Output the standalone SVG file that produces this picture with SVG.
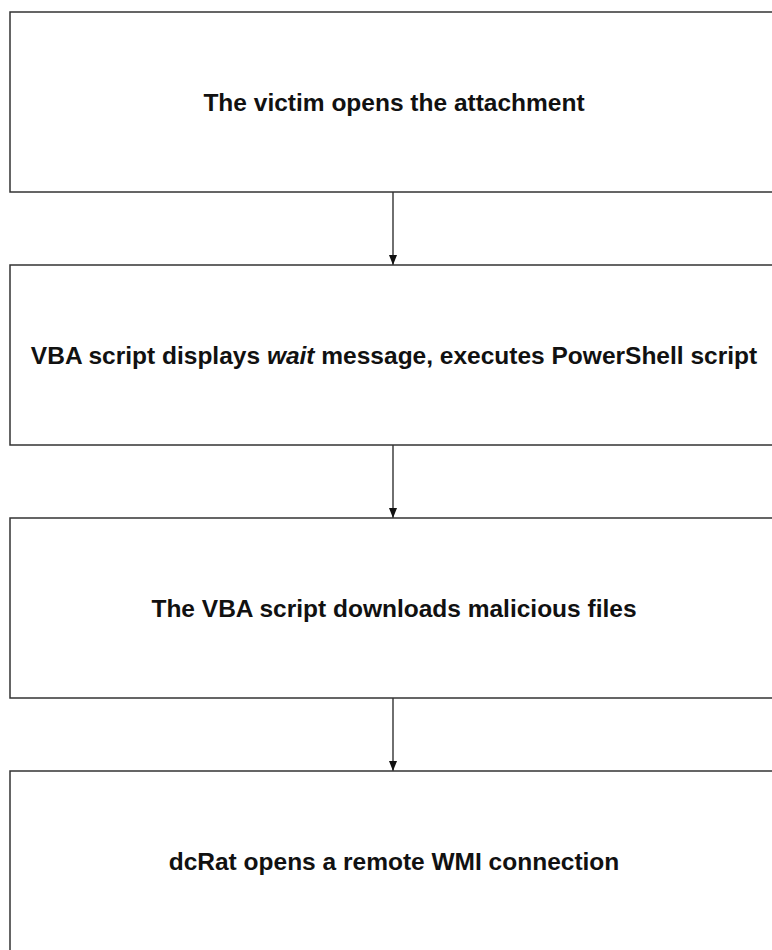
<svg xmlns="http://www.w3.org/2000/svg" width="772" height="950" viewBox="0 0 772 950">
<style>
.box{fill:#ffffff;stroke:#333333;stroke-width:1.5}
.lbl{font-family:"Liberation Sans",Arial,sans-serif;font-weight:bold;font-size:24.5px;fill:#111111;text-anchor:middle}
.conn{stroke:#222222;stroke-width:1.3;fill:none}
</style>
<defs>
<marker id="arr" viewBox="0 0 10 8" refX="10" refY="4" markerWidth="10" markerHeight="8" markerUnits="userSpaceOnUse" orient="auto">
<path d="M0,0 L10,4 L0,8 z" fill="#111111"/>
</marker>
</defs>
<rect width="772" height="950" fill="#ffffff"/>
<g id="connectors">
<line class="conn" x1="393" y1="192" x2="393" y2="265" marker-end="url(#arr)"/>
<line class="conn" x1="393" y1="445" x2="393" y2="518" marker-end="url(#arr)"/>
<line class="conn" x1="393" y1="698" x2="393" y2="771" marker-end="url(#arr)"/>
</g>
<g id="node1">
<rect class="box" x="10" y="12" width="766" height="180"/>
<text class="lbl" x="394" y="110.5">The victim opens the attachment</text>
</g>
<g id="node2">
<rect class="box" x="10" y="265" width="766" height="180"/>
<text class="lbl" x="394" y="363.5">VBA script displays <tspan font-style="italic">wait</tspan> message, executes PowerShell script</text>
</g>
<g id="node3">
<rect class="box" x="10" y="518" width="766" height="180"/>
<text class="lbl" x="394" y="616.5">The VBA script downloads malicious files</text>
</g>
<g id="node4">
<rect class="box" x="10" y="771" width="766" height="182"/>
<text class="lbl" x="394" y="869.5">dcRat opens a remote WMI connection</text>
</g>
</svg>
